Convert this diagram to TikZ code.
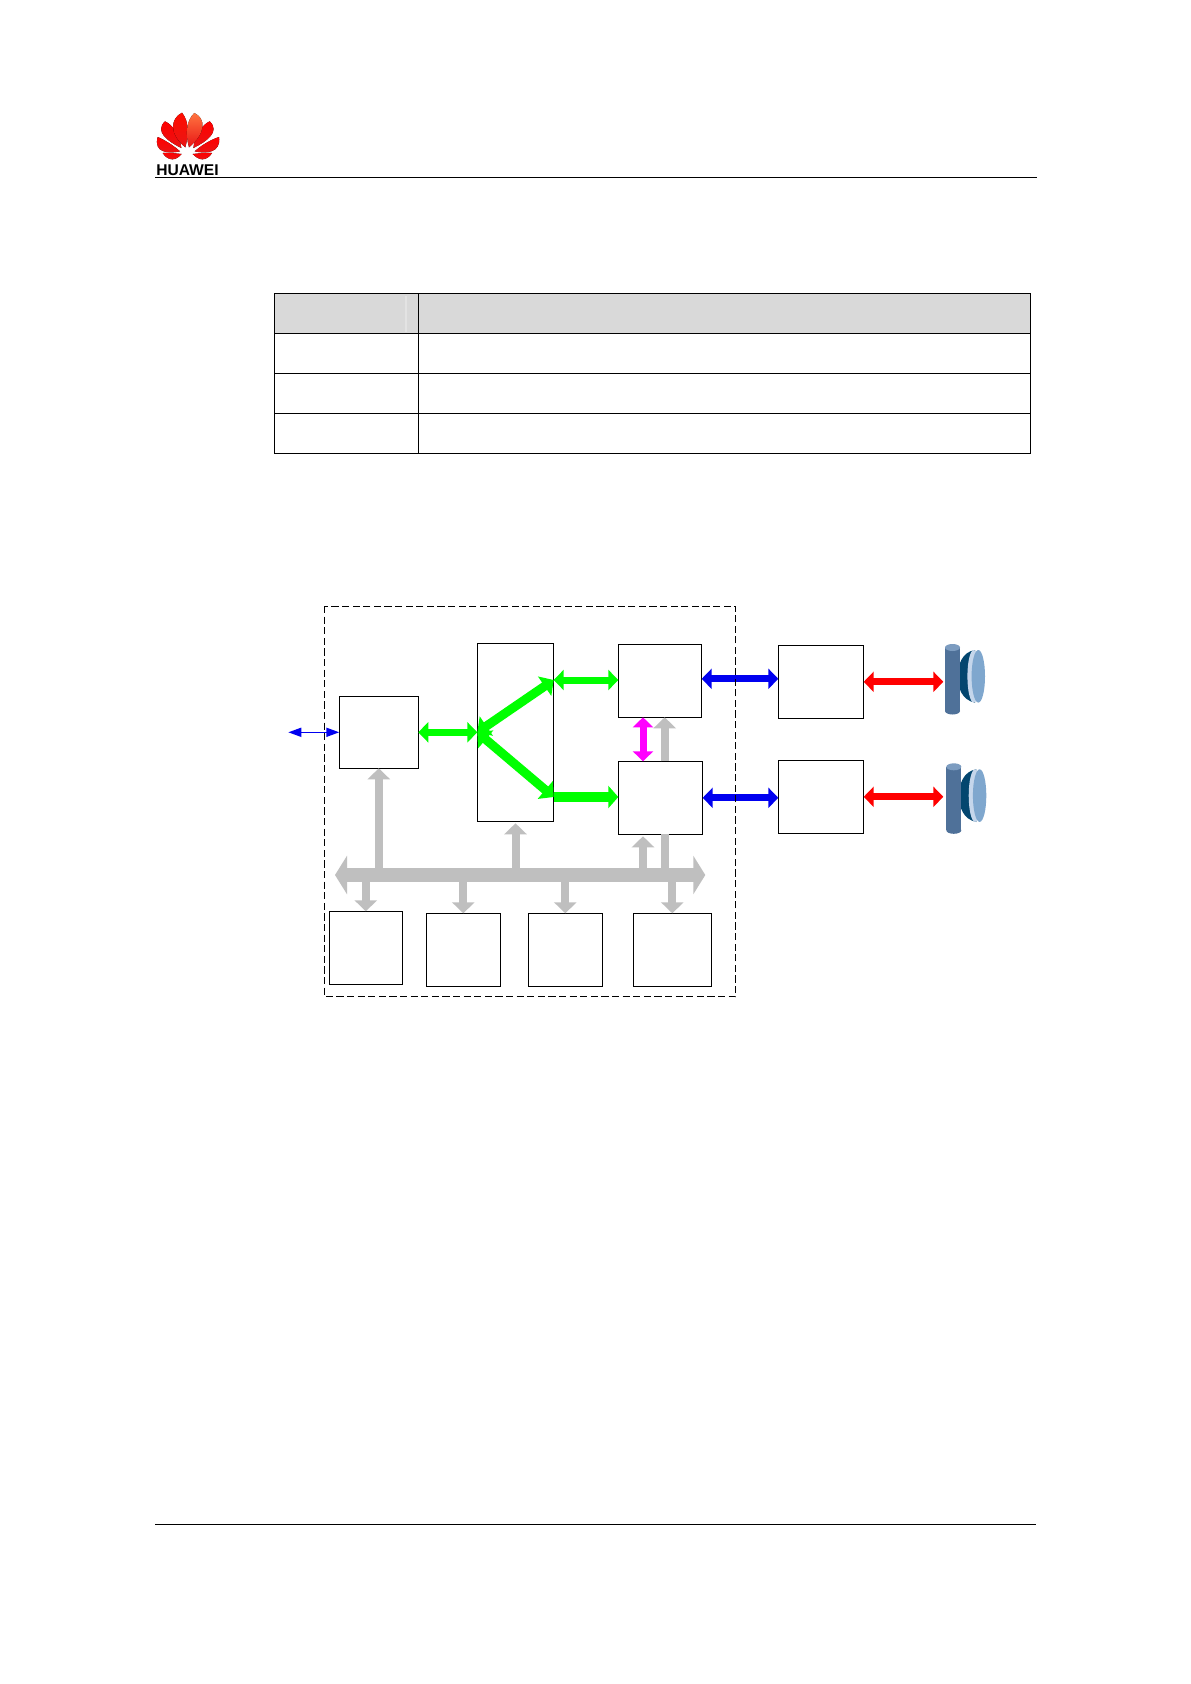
\documentclass[tikz,border=0pt]{standalone}
\usepackage{fontspec}
\setmainfont{Liberation Sans}
\usetikzlibrary{arrows.meta,calc}
\definecolor{busgray}{HTML}{BFBFBF}
\definecolor{headgray}{HTML}{D9D9D9}
\definecolor{headseam}{HTML}{E3E3E3}
\definecolor{linkgreen}{HTML}{00FF00}
\definecolor{linkblue}{HTML}{0000F0}
\definecolor{linkpink}{HTML}{FF00FF}
\definecolor{spkbody}{HTML}{4F7199}
\definecolor{spktop}{HTML}{7C9CC0}
\definecolor{spkdome}{HTML}{03466F}
\definecolor{spkrim}{HTML}{C5D6EB}
\definecolor{spkface}{HTML}{7FA7CE}
\definecolor{logolow}{HTML}{E81515}
\tikzset{
  blockbox/.style={draw=black, line width=0.55pt, fill=white, inner sep=0pt, outer sep=0pt},
  fatlink/.style={line width=3.5pt, {Triangle[width=10pt,length=5pt]}-{Triangle[width=10pt,length=5pt]}},
  forklink/.style={line width=4.5pt, linkgreen, {Triangle[width=11.5pt,length=5.5pt]}-{Triangle[width=11.5pt,length=5.5pt]}},
  oneway/.style={line width=5pt, -{Triangle[width=11pt,length=5pt]}},
  tapline/.style={line width=4pt, busgray, -{Triangle[width=11pt,length=5.5pt]}},
  petal/.style={draw=none, top color=#1, bottom color=logolow}
}
\begin{document}
\begin{tikzpicture}[x=0.5pt, y=-0.5pt]
        \fill[white] (0,0) rectangle (1190,1684);
        \useasboundingbox (0,0) rectangle (1190,1684);

        % Page head and foot rules
        \draw[line width=0.55pt] (155,177.3) -- (1037,177.3);
        \draw[line width=0.55pt] (155,1524.5) -- (1036,1524.5);

        % Logo
        \begin{scope}[shift={(140,90)}, x=0.1667pt, y=-0.1667pt]
            \fill[petal=red] (125,192) .. controls (105,190) and (85,188) .. (68,189) .. controls (75,200) and (85,208) .. (97,208) .. controls (108,208) and (118,200) .. (125,192) -- cycle;
            \fill[petal=red] (158,192) .. controls (178,190) and (198,188) .. (216,189) .. controls (209,200) and (199,208) .. (187,208) .. controls (176,208) and (166,200) .. (158,192) -- cycle;
            \fill[petal=red] (120,184) .. controls (85,192) and (40,188) .. (53,141) .. controls (75,150) and (105,170) .. (120,184) -- cycle;
            \fill[petal=red] (164,184) .. controls (199,192) and (244,188) .. (237,141) .. controls (209,150) and (179,170) .. (164,184) -- cycle;
            \fill[petal=red] (124,174) .. controls (85,155) and (42,125) .. (75,94) .. controls (100,105) and (120,140) .. (124,174) -- cycle;
            \fill[petal=red] (160,174) .. controls (164,140) and (184,105) .. (209,94) .. controls (242,125) and (199,155) .. (160,174) -- cycle;
            \fill[petal=red!90!orange] (136,172) .. controls (85,130) and (92,85) .. (126,68) .. controls (148,95) and (146,135) .. (136,172) -- cycle;
            \fill[petal=orange!55!red!75] (147,172) .. controls (135,130) and (140,90) .. (163,69) .. controls (198,85) and (198,130) .. (147,172) -- cycle;
        \end{scope}
        \node[font=\fontsize{7.8}{8}\selectfont\bfseries, inner sep=0pt] (logotext) at (187.5,170) {HUAWEI};

        % Table
        \fill[headgray] (274.3,293.3) rectangle (1030.5,333.3);
        \draw[headseam, line width=0.6pt] (406,296) -- (406,332);
        \draw[line width=0.55pt] (274.3,293.3) rectangle (1030.5,453.3);
        \foreach \y in {333.3,373.3,413.3} {
            \draw[line width=0.55pt] (274.3,\y) -- (1030.5,\y);
        }
        \draw[line width=0.55pt] (418.3,293.3) -- (418.3,453.3);

        % Blocks inside the frame
        \node[blockbox, minimum width=39.5pt, minimum height=36pt] (mcu) at (378.8,732.3) {};
        \node[blockbox, minimum width=38.2pt, minimum height=89pt] (switch) at (515.5,732.3) {};
        \node[blockbox, minimum width=41.7pt, minimum height=36.5pt] (portup) at (660,680.8) {};
        \node[blockbox, minimum width=42.2pt, minimum height=36.5pt] (portlow) at (660.5,797.8) {};
        \node[blockbox, minimum width=36.5pt, minimum height=36.5pt] (ctla) at (365.8,947.8) {};
        \node[blockbox, minimum width=37pt, minimum height=36.5pt] (ctlb) at (463.3,949.8) {};
        \node[blockbox, minimum width=37pt, minimum height=36.5pt] (ctlc) at (565.3,949.8) {};
        \node[blockbox, minimum width=39pt, minimum height=36.5pt] (ctld) at (672.3,949.8) {};

        % Blocks outside the frame
        \node[blockbox, minimum width=42.7pt, minimum height=36.5pt] (ampup) at (821,681.8) {};
        \node[blockbox, minimum width=42.7pt, minimum height=36.5pt] (amplow) at (821,796.8) {};

        % Speakers
        \foreach \dx/\dy/\nm in {0/0/spkup, 1.3/119.3/spklow} {
            \begin{scope}[shift={(\dx,\dy)}]
                \fill[spkdome] (975,650) .. controls (962,652) and (957.7,665) .. (957.7,676.3) .. controls (957.7,688) and (962,700) .. (975,702.7) -- cycle;
                \fill[spkrim] (973.7,676.3) ellipse[x radius=6.3, y radius=26.3];
                \fill[spkface] (978.3,676.3) ellipse[x radius=6.7, y radius=26.3];
                \fill[spkbody] (945,648) rectangle (960,711);
                \fill[spkbody] (952.5,711) ellipse[x radius=7.5, y radius=3.5];
                \fill[spktop] (952.5,647.5) ellipse[x radius=7.5, y radius=3.5];
                \coordinate (\nm) at (943.3,681.7);
            \end{scope}
        }

        % Bus and its coordinates
        \coordinate (busl) at (335,875);
        \coordinate (busr) at (705.3,875);
        \coordinate (tapd) at (643,875);
        \coordinate (tapc) at (664.7,875);

        % Gray taps
        \draw[tapline] (busl -| mcu.south) -- (mcu.south);
        \draw[tapline] (busl -| switch.south) -- ($(switch.south)+(0,2)$);
        \draw[tapline] (tapd) -- ($(tapd |- portlow.south)+(0,2)$);
        \draw[line width=4pt, busgray] (tapc) -- (tapc |- portlow.south);
        \draw[tapline] (tapc |- portlow.north) -- (tapc |- portup.south);
        \draw[tapline] (busl -| ctla.north) -- (ctla.north);
        \draw[tapline] (busl -| ctlb.north) -- (ctlb.north);
        \draw[tapline] (busl -| ctlc.north) -- (ctlc.north);
        \draw[tapline] (busl -| ctld.north) -- (ctld.north);
        \draw[line width=6.7pt, busgray, {Triangle[width=19pt,length=6pt]}-{Triangle[width=19pt,length=6pt]}] (busl) -- (busr);

        % Green links through the switch
        \coordinate (hub) at (switch.west |- mcu.east);
        \coordinate (gup) at (553.7,680);
        \coordinate (glow) at (553.7,797);
        \draw[fatlink, linkgreen] (mcu.east) -- (hub);
        \draw[forklink] (hub) -- (gup);
        \draw[forklink] (hub) -- (glow);
        \draw[fatlink, linkgreen] (gup) -- (gup -| portup.west);
        \draw[oneway, linkgreen] (glow) -- (glow -| portlow.west);

        % Other links
        \draw[fatlink, linkpink] (tapd |- portup.south) -- (tapd |- portlow.north);
        \draw[fatlink, linkblue] ($(portup.east)+(0,-2)$) -- ($(portup.east -| ampup.west)+(0,-2)$);
        \draw[fatlink, linkblue] (portlow.east) -- (portlow.east -| amplow.west);
        \draw[fatlink, red] (ampup.east) -- (ampup.east -| spkup);
        \draw[fatlink, red] (amplow.east) -- (amplow.east -| spkup);

        % Thin link on the left
        \coordinate (hostend) at (288.3,732.3);
        \draw[linkblue, line width=0.8pt, {Triangle[width=4.5pt,length=6.5pt]}-{Triangle[width=4.5pt,length=6.5pt]}] (hostend) -- (mcu.west);

        % Dashed frame
        \draw[line width=0.5pt, dash pattern=on 3.6pt off 1.7pt] (324.3,606) rectangle (735.7,996.7);
\end{tikzpicture}
\end{document}
